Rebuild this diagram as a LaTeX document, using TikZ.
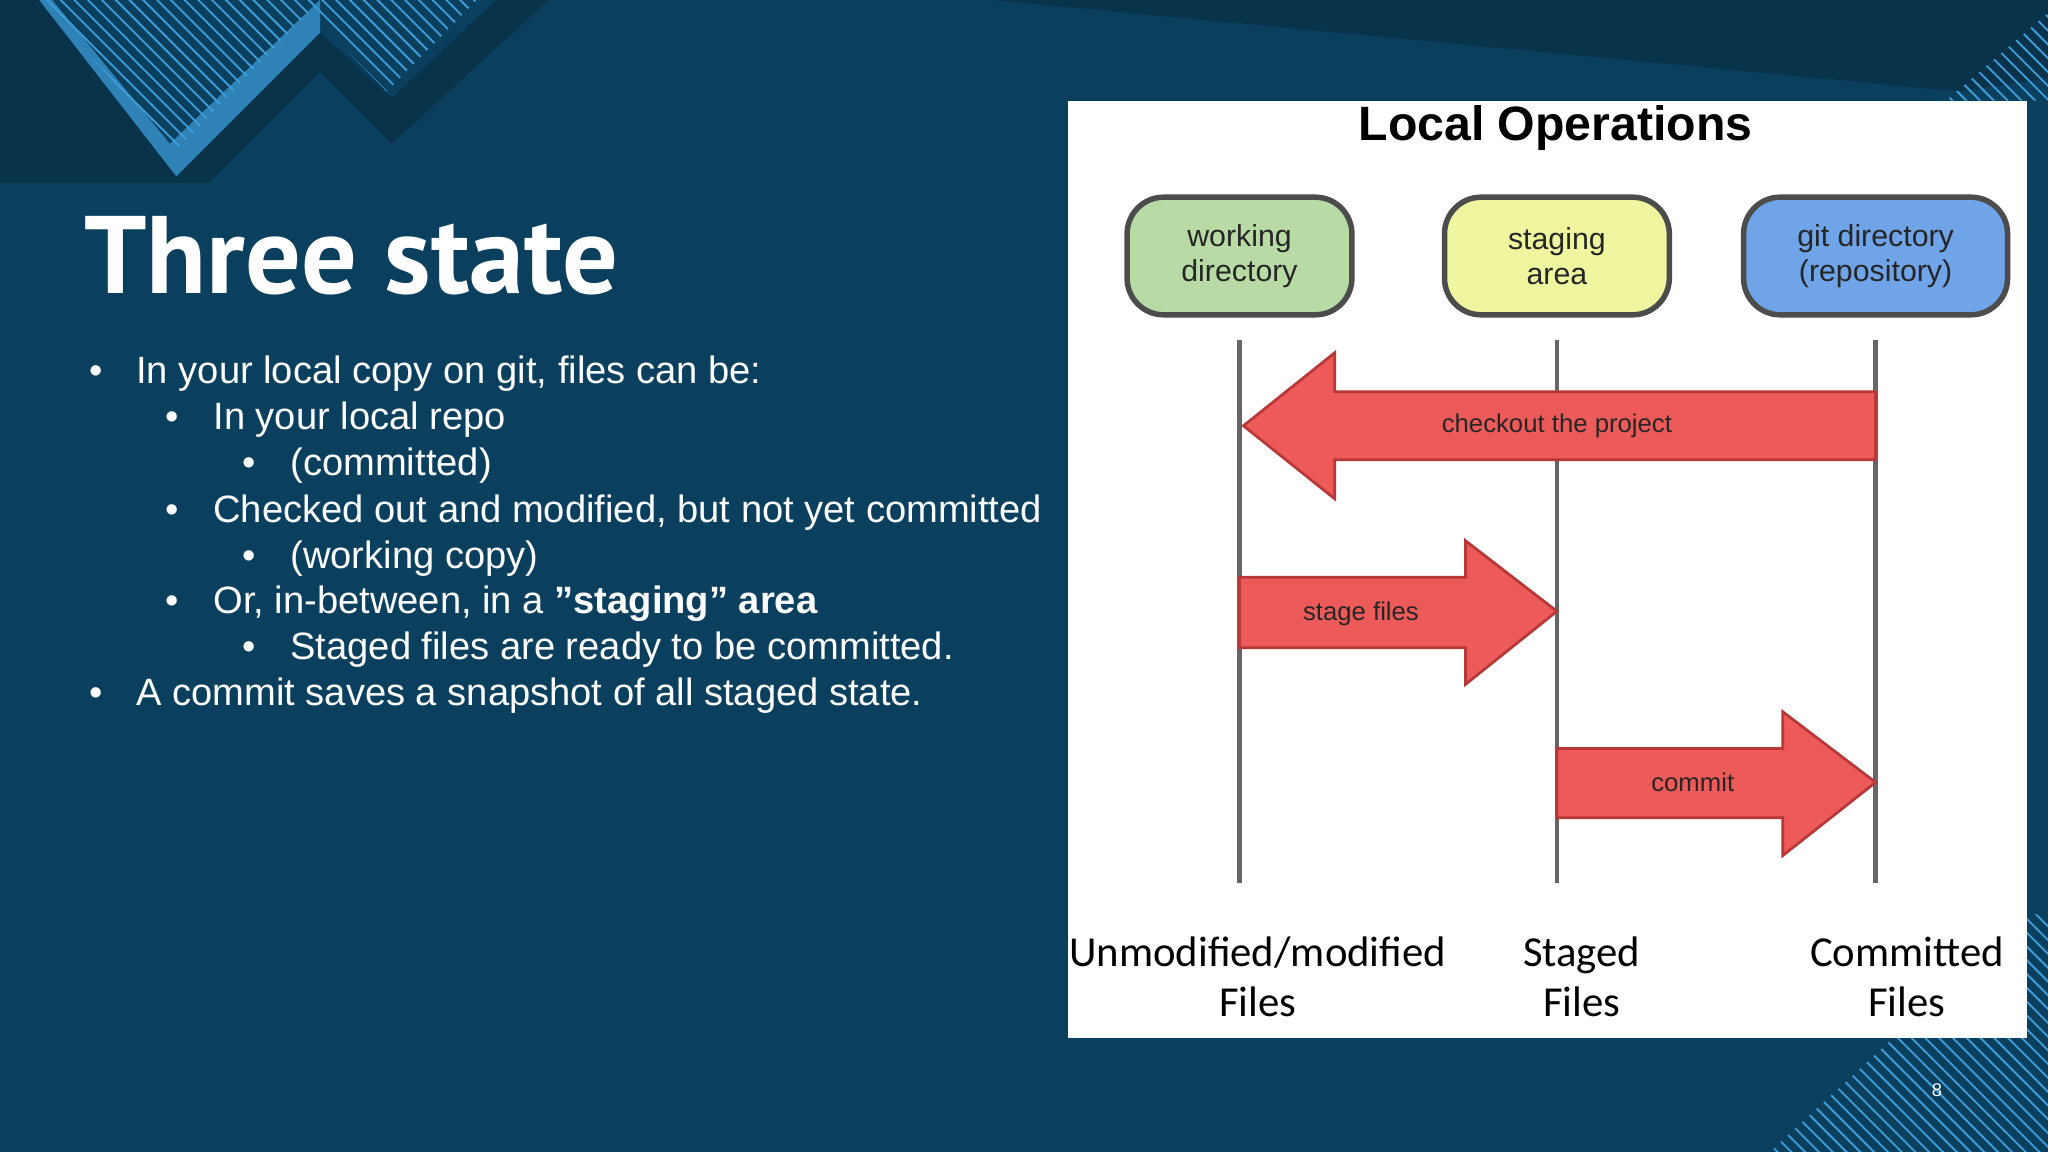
\documentclass[tikz,border=0pt]{standalone}
\usepackage{fontspec}
\setmainfont{Liberation Sans}
\newfontfamily\titlef{PT Sans}
\newfontfamily\labf{Carlito}
\usetikzlibrary{patterns}
\definecolor{bg}{HTML}{0B3F5E}
\definecolor{lb}{HTML}{3E9EDB}
\definecolor{arr}{HTML}{EC5A5A}
\definecolor{arrd}{HTML}{B83838}
\begin{document}
\begin{tikzpicture}[x=0.01cm,y=-0.01cm,
 bul/.style={anchor=base west,text=white,font=\fontsize{8.3pt}{10pt}\selectfont},
 state/.style={draw=black!70,line width=1.2pt,rounded corners=0.28cm,minimum height=0.9cm,font=\fontsize{6.6pt}{7.6pt}\selectfont,align=center,text=black!85},
 flow/.style={fill=arr,draw=arrd,line width=0.6pt},
 flab/.style={font=\fontsize{5.6pt}{7pt}\selectfont,text=black!85},
 blab/.style={font=\labf\fontsize{9.3pt}{10.8pt}\selectfont,align=center,anchor=north},
 lane/.style={draw=black!60,line width=1pt}]
\fill[bg] (0,0) rectangle (1568,882);
\useasboundingbox (0,0) rectangle (1568,882);
% decorations
\fill[bg!80!black] (0,0) -- (30,0) -- (135,135) -- (245,25) -- (300,75) -- (380,0) -- (820,0) -- (1568,0) -- (1568,60) -- (1500,70) -- (760,0) -- (420,0) -- (300,110) -- (245,55) -- (160,140) -- (0,140) -- cycle;
\fill[lb!70!bg] (0,0) -- (30,0) -- (135,135) -- (245,25) -- (245,0) -- (130,110) -- (40,0) -- cycle;
\fill[pattern=north west lines,pattern color=lb] (30,0) -- (245,0) -- (135,115) -- cycle;
\fill[pattern=north west lines,pattern color=lb] (228,0) -- (365,0) -- (296,70) -- cycle;
\fill[pattern=north west lines,pattern color=lb] (1490,77) -- (1568,10) -- (1568,77) -- cycle;
\fill[pattern=north west lines,pattern color=lb] (1355,882) -- (1552,700) -- (1568,700) -- (1568,882) -- cycle;
% title and bullets
\node[anchor=base west,text=white,font=\titlef\bfseries\fontsize{24pt}{28pt}\selectfont] (title) at (52,225) {Three state};
\node[bul] (b1) at (56,294) {•}; \node[bul] (t1) at (92,294) {In your local copy on git, files can be:};
\node[bul] (b2) at (114,329) {•}; \node[bul] (t2) at (151,329) {In your local repo};
\node[bul] (b3) at (173,364) {•}; \node[bul] (t3) at (210,364) {(committed)};
\node[bul] (b4) at (114,400) {•}; \node[bul] (t4) at (151,400) {Checked out and modified, but not yet committed};
\node[bul] (b5) at (173,435) {•}; \node[bul] (t5) at (210,435) {(working copy)};
\node[bul] (b6) at (114,470) {•}; \node[bul] (t6) at (151,470) {Or, in-between, in a \textbf{"staging" area}};
\node[bul] (b7) at (173,505) {•}; \node[bul] (t7) at (210,505) {Staged files are ready to be committed.};
\node[bul] (b8) at (56,540) {•}; \node[bul] (t8) at (92,540) {A commit saves a snapshot of all staged state.};
% panel
\fill[white] (818,77) rectangle (1552,795);
\node[font=\bfseries\fontsize{10.5pt}{12pt}\selectfont] (lo) at (1191,98) {Local Operations};
\node[state,fill=green!25!lime!30!white,minimum width=1.72cm,fill={rgb,255:red,184;green,219;blue,166}] (wd) at (949,196) {working\\directory};
\node[state,minimum width=1.72cm,fill={rgb,255:red,240;green,246;blue,160}] (sa) at (1192,196) {staging\\area};
\node[state,minimum width=2.02cm,fill={rgb,255:red,112;green,164;blue,232}] (gd) at (1436,196) {git directory\\(repository)};
\coordinate (l1a) at (949,260); \coordinate (l1b) at (949,676);
\coordinate (l2a) at (1192,260); \coordinate (l2b) at (1192,676);
\coordinate (l3a) at (1436,260); \coordinate (l3b) at (1436,676);
\draw[lane] (l1a) -- (l1b); \draw[lane] (l2a) -- (l2b); \draw[lane] (l3a) -- (l3b);
\draw[flow] (1436,300) -- (1022,300) -- (1022,270) -- (952,326) -- (1022,382) -- (1022,352) -- (1436,352) -- cycle;
\node[flab] (co) at (1192,326) {checkout the project};
\draw[flow] (949,442) -- (1122,442) -- (1122,414) -- (1192,468) -- (1122,524) -- (1122,496) -- (949,496) -- cycle;
\node[flab] (sf) at (1042,470) {stage files};
\draw[flow] (1192,573) -- (1365,573) -- (1365,545) -- (1436,599) -- (1365,655) -- (1365,626) -- (1192,626) -- cycle;
\node[flab] (cm) at (1296,599) {commit};
\node[blab] (u) at (963,705) {Unmodified/modified\\Files};
\node[blab] (s) at (1211,705) {Staged\\Files};
\node[blab] (c) at (1460,705) {Committed\\Files};
\node[text=white!70,font=\fontsize{4pt}{5pt}\selectfont] (pg) at (1483,835) {8};
\end{tikzpicture}
\end{document}
